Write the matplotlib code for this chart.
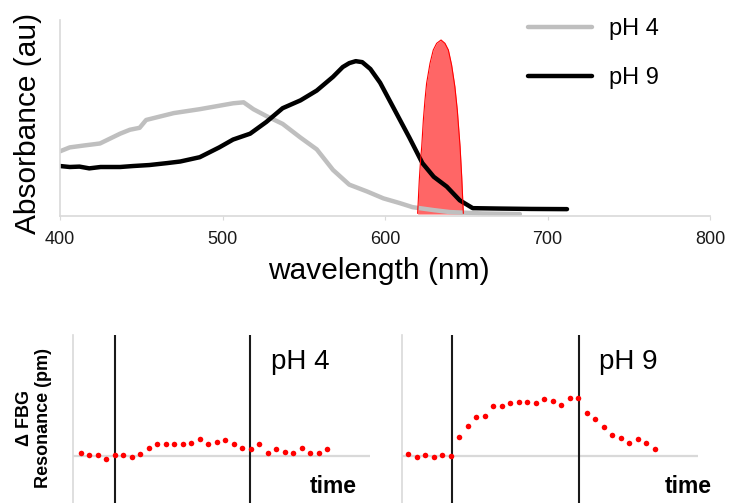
import matplotlib
matplotlib.use("Agg")
import matplotlib.pyplot as plt

plt.rcParams['font.family'] = ['Liberation Sans', 'DejaVu Sans']

# ---- absorbance spectra ----
wl_ph9 = [400, 406, 412, 418, 425, 437, 445, 455, 466, 474, 486, 498, 506.5, 517, 527, 537,
          548, 558, 568, 574, 578, 582, 586, 591, 597, 606, 615, 623, 630, 638, 646, 654,
          670, 690, 712]
abs_ph9 = [0.255, 0.25, 0.252, 0.243, 0.25, 0.25, 0.255, 0.26, 0.27, 0.278, 0.30, 0.35, 0.39,
           0.42, 0.48, 0.55, 0.59, 0.64, 0.71, 0.76, 0.78, 0.79, 0.785, 0.75, 0.68, 0.54,
           0.40, 0.27, 0.20, 0.15, 0.08, 0.04, 0.038, 0.036, 0.035]

wl_ph4 = [400, 406, 415, 424.6, 437, 443, 449, 453, 470, 486, 506.5, 513, 519, 527, 537, 548,
          558, 568, 578, 589, 599, 609, 617, 630, 640, 660, 683]
abs_ph4 = [0.33, 0.35, 0.36, 0.37, 0.42, 0.44, 0.45, 0.49, 0.525, 0.545, 0.575, 0.58, 0.545,
           0.51, 0.47, 0.40, 0.34, 0.235, 0.16, 0.125, 0.09, 0.066, 0.045, 0.03, 0.02, 0.013,
           0.01]

# laser / FBG band
wl_band = [620.1, 621.1, 621.9, 622.6, 623.6, 624.6, 625.6, 627.7, 629.7, 631.8, 634.5,
           636.9, 639.0, 641.0, 643.0, 644.5, 646.2, 647.2, 648.2]
band = [0.014, 0.184, 0.286, 0.354, 0.49, 0.592, 0.677, 0.779, 0.847, 0.881, 0.898,
        0.881, 0.847, 0.77, 0.66, 0.54, 0.354, 0.201, 0.014]

x_ticks = [400, 500, 600, 700, 800]

# ---- FBG resonance vs time ----
t_ph4 = list(range(30))
fbg_ph4 = [2.7, 0.7, 0.7, -3.3, 0.7, 0.7, -0.7, 2.0, 8.3, 12, 12, 12, 12, 13.3, 17.3, 12,
           14.3, 16, 12, 8.3, 7, 12, 3.3, 7, 4.3, 2.7, 8.3, 3.3, 3.3, 7]
t_ph9 = list(range(30))
fbg_ph9 = [2, -0.7, 1, -0.7, 1, 0, 18.7, 30, 38.7, 40, 50, 50, 52.7, 54.3, 54.3, 52.7, 56.7,
           55.3, 51, 57.7, 57.7, 42.7, 36.7, 28.7, 21, 17.7, 13.3, 16.7, 13.3, 7]
events_ph4 = [4.04, 19.9]
events_ph9 = [5.14, 20.1]

W, H = 733, 503
fig = plt.figure(figsize=(W / 100, H / 100), dpi=100)

def ax_px(l, r, t, b):
    return fig.add_axes([l / W, 1 - b / H, (r - l) / W, (b - t) / H])

# ---- top panel ----
ax = ax_px(60, 710, 20, 216)
ax.plot(wl_ph4, abs_ph4, color='#bfbfbf', lw=3.2, solid_capstyle='round', label='pH 4')
ax.plot(wl_ph9, abs_ph9, color='black', lw=3.2, solid_capstyle='round', label='pH 9')
ax.fill_between(wl_band, band, 0.01, color='#ff0000', alpha=0.6, lw=0)
ax.plot(wl_band, band, color='#ff0000', lw=0.8)
ax.set_xlim(400, 800)
ax.set_ylim(0, 1)
ax.set_xticks(x_ticks)
ax.set_xticklabels([str(v) for v in x_ticks], fontsize=13, color='#1a1a1a')
ax.set_yticks([])
for s in ['top', 'right']:
    ax.spines[s].set_visible(False)
for s in ['left', 'bottom']:
    ax.spines[s].set_color('#d9d9d9')
    ax.spines[s].set_linewidth(1.2)
ax.tick_params(axis='x', length=3, color='#d9d9d9', pad=8)
leg = ax.legend(loc='upper left', bbox_to_anchor=(528 / W, 1 - 18 / H),
                bbox_transform=fig.transFigure, frameon=False, fontsize=17,
                handlelength=2.7, handletextpad=0.75, labelspacing=1.15,
                borderpad=0, borderaxespad=0)
for line in leg.get_lines():
    line.set_linewidth(3.2)

fig.text(28 / W, 1 - 123 / H, 'Absorbance (au)', rotation=90, ha='center', va='center',
         fontsize=21.5)
fig.text(379 / W, 1 - 279 / H, 'wavelength (nm)', ha='center', va='baseline', fontsize=21.5)

# ---- bottom panels ----
def fbg_panel(l, r, times, vals, events, label, xlim):
    a = ax_px(l, r, 335, 503)
    a.axhline(0, color='#d9d9d9', lw=1.6, zorder=1)
    for e in events:
        a.axvline(e, color='#1a1a1a', lw=1.5, zorder=2)
    a.plot(times, vals, 'o', color='#ff0000', ms=4.0, mec='none', zorder=3)
    a.set_xlim(*xlim)
    a.set_ylim(-47, 121)
    a.set_xticks([])
    a.set_yticks([])
    for s in ['top', 'right', 'bottom']:
        a.spines[s].set_visible(False)
    a.spines['left'].set_color('#d9d9d9')
    a.spines['left'].set_linewidth(1.2)
    a.text(0.667, 0.798, label, transform=a.transAxes, fontsize=20, va='baseline', ha='left')
    return a

a1 = fbg_panel(73, 370, t_ph4, fbg_ph4, events_ph4, 'pH 4', (-0.9, 34.0))
a2 = fbg_panel(402, 698, t_ph9, fbg_ph9, events_ph9, 'pH 9', (-0.74, 34.1))

fig.text(357 / W, 1 - 493 / H, 'time', ha='right', va='baseline', fontsize=16.5,
         fontweight='bold')
fig.text(712 / W, 1 - 493 / H, 'time', ha='right', va='baseline', fontsize=16.5,
         fontweight='bold')

fig.text(34 / W, 1 - 418 / H, '\u0394 FBG\nResonance (pm)', rotation=90, ha='center',
         va='center', multialignment='center', fontsize=13, fontweight='bold',
         linespacing=1.1)

fig.savefig('out.png', dpi=100)
